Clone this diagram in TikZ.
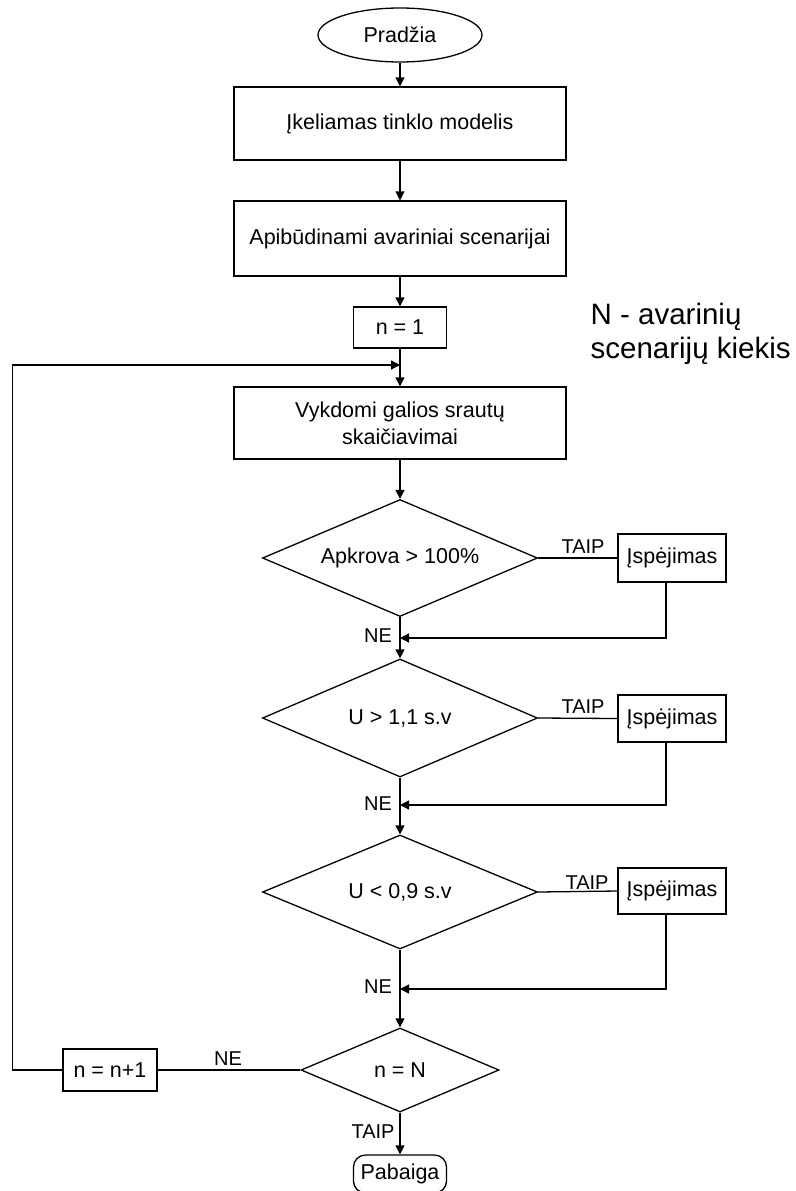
\documentclass[tikz,border=0pt]{standalone}
\usepackage{fontspec}
\setmainfont{Liberation Sans}
\usetikzlibrary{shapes.geometric,arrows.meta}

\begin{document}
\begin{tikzpicture}[x=1pt,y=-1pt,line width=1.3pt,
  every node/.style={font=\fontsize{21.5}{27}\selectfont,inner sep=0pt},
  proc/.style={draw,rectangle,minimum width=332pt,minimum height=73pt,align=center},
  small/.style={draw,rectangle,minimum width=93pt,minimum height=41pt},
  warn/.style={draw,rectangle,minimum width=108pt,minimum height=48pt},
  test/.style={draw,diamond,shape aspect=2.35,minimum width=275pt,minimum height=117pt},
  term/.style={draw,ellipse,minimum width=164pt,minimum height=54pt},
  lbl/.style={font=\fontsize{20}{24}\selectfont},
  flow/.style={-{Triangle[length=9pt,width=9pt]}}
]
\useasboundingbox (0,0) rectangle (795,1191);

% main column
\node[term] (start) at (400,35) {Pradžia};
\node[proc] (load) at (400,123.5) {Įkeliamas tinklo modelis};
\node[proc,minimum height=75pt] (scen) at (400,238.5) {Apibūdinami avariniai scenarijai};
\node[small] (n1) at (400,327.5) {n = 1};
\node[proc,minimum height=72pt] (flowcalc) at (400,423) {Vykdomi galios srautų\\skaičiavimai};
\node[test] (d1) at (400,558) {Apkrova > 100\%};
\node[test,minimum height=118pt] (d2) at (400,718) {U > 1,1 s.v};
\node[test,minimum height=114pt] (d3) at (400,892) {U < 0,9 s.v};
\node[test,minimum width=198pt,minimum height=84pt] (d4) at (400,1070) {n = N};
\node[draw,rectangle,rounded corners=12pt,minimum width=93pt,minimum height=38pt] (stop) at (400,1174) {Pabaiga};

% side boxes
\node[warn] (w1) at (672,558) {Įspėjimas};
\node[warn,minimum height=47pt] (w2) at (672,718.5) {Įspėjimas};
\node[warn,minimum height=46pt] (w3) at (672,891) {Įspėjimas};
\node[small,minimum width=94pt,minimum height=42pt] (inc) at (110,1070) {n = n+1};

% note
\node[anchor=north west,align=left,font=\fontsize{29.5}{34}\selectfont] (note) at (590,302)
  {N - avarinių\\scenarijų kiekis};

% junction points
\coordinate (j1) at (400,638);
\coordinate (j2) at (400,805);
\coordinate (j3) at (400,989);
\coordinate (loop) at (400,365);

% straight flow
\draw[flow] (start) -- (load);
\draw[flow] (load) -- (scen);
\draw[flow] (scen) -- (n1);
\draw[flow] (n1) -- (flowcalc);
\draw[flow] (flowcalc) -- (d1);
\draw[flow] (d1.south) -- (d2.north);
\draw[flow] (d2.south) -- (d3.north);
\draw[flow] (d3.south) -- (d4.north);
\draw[flow] (d4.south) -- (stop.north);

% warning branches
\draw (d1.east) -- (w1.west);
\draw (d2.east) -- (w2.west);
\draw (d3.east) -- (w3.west);
\draw[flow] ([xshift=-6pt]w1.south) |- (j1);
\draw[flow] ([xshift=-6pt]w2.south) |- (j2);
\draw[flow] ([xshift=-6pt]w3.south) |- (j3);

% loop back
\draw (d4.west) -- (inc.east);
\draw[flow] (inc.west) -- ++(-50,0) |- (loop);

% labels
\node[lbl] at (583,547) {TAIP};
\node[lbl] at (583,707) {TAIP};
\node[lbl] at (587,883) {TAIP};
\node[lbl] at (378,636) {NE};
\node[lbl] at (378,804) {NE};
\node[lbl] at (378,987) {NE};
\node[lbl] at (228,1059) {NE};
\node[lbl] at (373,1132) {TAIP};
\end{tikzpicture}
\end{document}
